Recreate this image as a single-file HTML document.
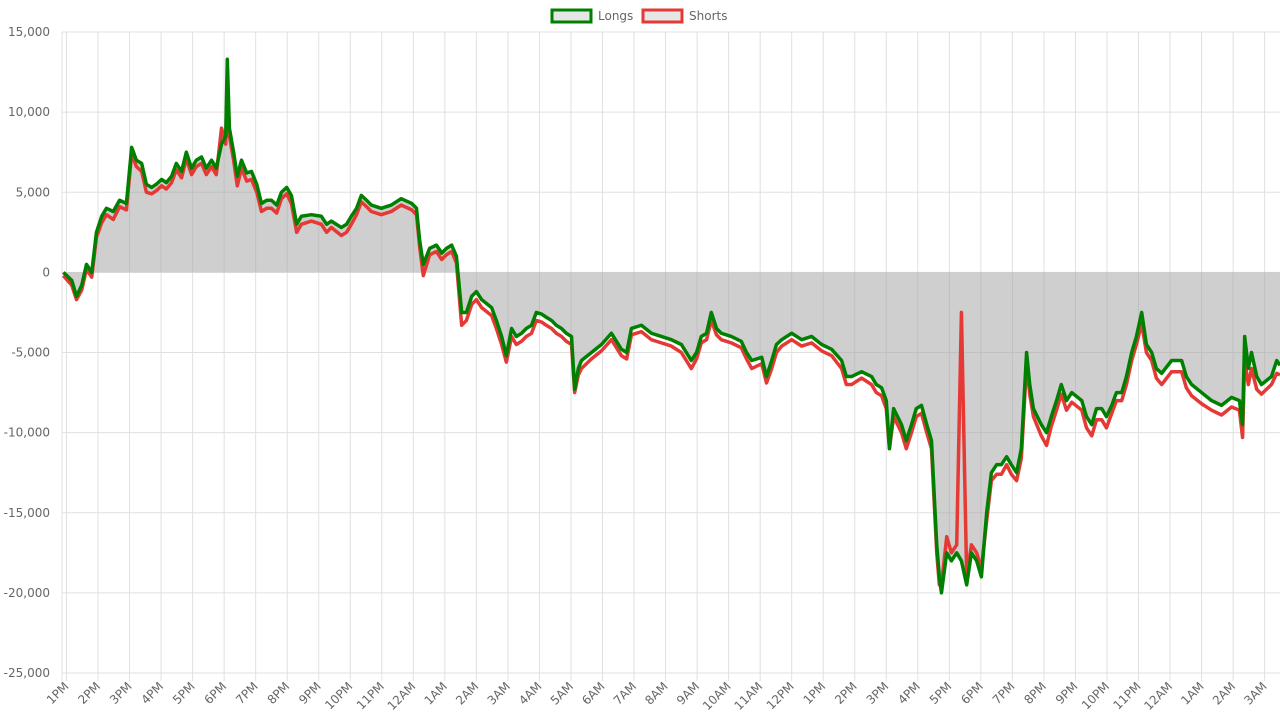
<!DOCTYPE html>
<html><head><meta charset="utf-8"><style>
body{margin:0;background:#fff;font-family:"Liberation Sans","DejaVu Sans",sans-serif}
svg text{font-family:"DejaVu Sans","Liberation Sans",sans-serif}
</style></head><body>
<svg id="chart" width="1280" height="720" xmlns="http://www.w3.org/2000/svg">
<g id="legend">
<g><rect x="552" y="10" width="39" height="12" fill="#e6e6e6" stroke="#008000" stroke-width="3"/><text x="598" y="20" font-size="12" fill="#666">Longs</text></g>
<g><rect x="643" y="10" width="39" height="12" fill="#e6e6e6" stroke="#e53935" stroke-width="3"/><text x="689" y="20" font-size="12" fill="#666">Shorts</text></g>
</g>
<g id="grid"></g>
<g id="plot"></g>
</svg>
<script>
const times=[-6,10,19,29,38,48,57,67,76,89,101,114,124,133,143,152,162,171,181,190,200,209,219,228,238,247,257,266,276,285,295,303,306,310,318,325,333,343,352,362,371,381,390,400,409,419,428,438,447,466,485,495,504,523,533,542,552,561,571,580,599,618,637,657,666,672,679,691,704,714,723,733,742,752,761,771,780,790,809,818,828,837,847,856,866,875,885,894,904,913,923,932,942,951,961,967,974,980,999,1018,1037,1056,1066,1075,1094,1113,1132,1151,1170,1189,1199,1208,1218,1227,1237,1246,1265,1284,1294,1304,1323,1332,1342,1351,1361,1380,1399,1418,1437,1456,1475,1484,1494,1513,1532,1541,1551,1560,1566,1574,1589,1598,1608,1617,1627,1637,1646,1656,1661,1665,1675,1684,1694,1703,1713,1722,1732,1741,1751,1760,1770,1779,1789,1798,1808,1817,1827,1833,1840,1855,1865,1874,1884,1893,1903,1913,1932,1941,1951,1960,1970,1979,1989,1998,2008,2017,2027,2036,2046,2055,2065,2074,2084,2103,2122,2131,2141,2160,2179,2198,2217,2232,2238,2242,2249,2255,2265,2274,2293,2303,2312];
const longs=[0,-500,-1500,-800,500,0,2500,3500,4000,3800,4500,4300,7800,7000,6800,5500,5300,5500,5800,5600,6000,6800,6300,7500,6500,7000,7200,6500,7000,6500,8000,8500,13300,9000,7500,6000,7000,6200,6300,5500,4300,4500,4500,4200,5000,5300,4800,3000,3500,3600,3500,3000,3200,2800,3000,3500,4000,4800,4500,4200,4000,4200,4600,4300,4000,2000,500,1500,1700,1200,1500,1700,1000,-2500,-2500,-1500,-1200,-1700,-2200,-3000,-4000,-5200,-3500,-4000,-3800,-3500,-3300,-2500,-2600,-2800,-3000,-3300,-3500,-3800,-4000,-7300,-6000,-5500,-5000,-4500,-3800,-4800,-5000,-3500,-3300,-3800,-4000,-4200,-4500,-5500,-5000,-4000,-3800,-2500,-3500,-3800,-4000,-4300,-5000,-5500,-5300,-6500,-5500,-4500,-4200,-3800,-4200,-4000,-4500,-4800,-5500,-6500,-6500,-6200,-6500,-7000,-7200,-8000,-11000,-8500,-9500,-10500,-9500,-8500,-8300,-9500,-10500,-17000,-19000,-20000,-17500,-18000,-17500,-18000,-19500,-17500,-18000,-19000,-15000,-12500,-12000,-12000,-11500,-12000,-12500,-11000,-5000,-7000,-8500,-9500,-10000,-9000,-8000,-7000,-8000,-7500,-8000,-9000,-9500,-8500,-8500,-9000,-8300,-7500,-7500,-6500,-5000,-4000,-2500,-4500,-5000,-6000,-6300,-5500,-5500,-6500,-7000,-7500,-8000,-8300,-7800,-8000,-9500,-4000,-6000,-5000,-6500,-7000,-6500,-5500,-5800];
const shorts=[-200,-800,-1700,-1100,200,-300,2200,3100,3600,3300,4100,3900,7400,6600,6300,5000,4900,5100,5400,5200,5600,6400,5900,7100,6100,6600,6800,6100,6600,6100,9000,8000,12000,8500,7000,5400,6500,5700,5800,5000,3800,4000,4000,3700,4600,4900,4300,2500,3000,3200,3000,2500,2800,2300,2500,3000,3600,4400,4100,3800,3600,3800,4200,3900,3600,1600,-200,1100,1300,800,1100,1300,600,-3300,-3000,-2000,-1700,-2200,-2700,-3500,-4500,-5600,-4000,-4500,-4300,-4000,-3800,-3000,-3100,-3300,-3500,-3800,-4000,-4300,-4500,-7500,-6400,-6000,-5400,-4900,-4200,-5200,-5400,-3900,-3700,-4200,-4400,-4600,-5000,-6000,-5400,-4400,-4200,-3000,-3900,-4200,-4400,-4700,-5400,-6000,-5700,-6900,-6000,-5000,-4600,-4200,-4600,-4400,-4900,-5200,-6000,-7000,-7000,-6600,-7000,-7500,-7700,-8500,-11000,-9000,-10000,-11000,-10000,-9000,-8800,-10000,-11000,-17500,-19500,-19500,-16500,-17500,-17000,-2500,-19000,-17000,-17500,-18500,-15500,-13000,-12600,-12600,-12000,-12600,-13000,-11600,-5700,-7600,-9000,-10200,-10800,-9600,-8600,-7600,-8600,-8100,-8600,-9700,-10200,-9200,-9200,-9700,-8800,-8000,-8000,-7000,-5500,-4500,-3200,-5000,-5500,-6600,-7000,-6200,-6200,-7200,-7700,-8200,-8600,-8900,-8400,-8600,-10300,-5500,-7000,-6000,-7300,-7600,-7000,-6300,-6400];
const yTicks=[15000,10000,5000,0,-5000,-10000,-15000,-20000,-25000];
const hourLabels=["1PM","2PM","3PM","4PM","5PM","6PM","7PM","8PM","9PM","10PM","11PM","12AM","1AM","2AM","3AM","4AM","5AM","6AM","7AM","8AM","9AM","10AM","11AM","12PM","1PM","2PM","3PM","4PM","5PM","6PM","7PM","8PM","9PM","10PM","11PM","12AM","1AM","2AM","3AM"];
const NS="http://www.w3.org/2000/svg";
const L=62,R=1280,T=32,B=673,x0=66.5,pxPerHour=31.53;
const X=m=>Math.min(R,Math.max(L,x0+m/60*pxPerHour));
const Y=v=>B-(v-(-25000))/40000*(B-T);
const grid=document.getElementById('grid'),plot=document.getElementById('plot');
function mk(tag,attrs,parent){const e=document.createElementNS(NS,tag);for(const k in attrs)e.setAttribute(k,attrs[k]);parent.appendChild(e);return e;}
yTicks.forEach(v=>{
 const ln=mk('line',{x1:L,x2:R,y1:Y(v),y2:Y(v),stroke:'#e0e0e0','stroke-width':1},grid);
 
 
 const t=mk('text',{x:50,y:Y(v)+4,'text-anchor':'end','font-size':12,fill:'#666'},grid);
 t.textContent=v.toLocaleString('en-US');
 
 
});
mk('line',{x1:L,x2:L,y1:T,y2:B+8,stroke:'#e0e0e0'},grid);
hourLabels.forEach((lab,i)=>{
 const x=x0+i*pxPerHour;
 const ln=mk('line',{x1:x,x2:x,y1:T,y2:B+8,stroke:'#e0e0e0','stroke-width':1},grid);
 
 
 const t=mk('text',{x:x+3,y:B+14,'text-anchor':'end','font-size':12,fill:'#666',transform:`rotate(-45 ${x+3} ${B+14})`},grid);
 t.textContent=lab;
 
 
});
let d='M'+X(times[0])+','+Y(0);
times.forEach((m,i)=>d+=' L'+X(m)+','+Y(longs[i]));
d+=' L'+X(times[times.length-1])+','+Y(0)+'Z';
const area=mk('path',{d:d,fill:'rgba(160,160,160,0.5)'},plot);


function line(vals,color,name){
 const pts=times.map((m,i)=>X(m)+','+Y(vals[i])).join(' ');
 const p=mk('polyline',{points:pts,fill:'none',stroke:color,'stroke-width':3.5,'stroke-linejoin':'round'},plot);
 
 
}
line(shorts,'#e53935','shorts-line');
line(longs,'#008000','longs-line');
</script>
</body></html>
